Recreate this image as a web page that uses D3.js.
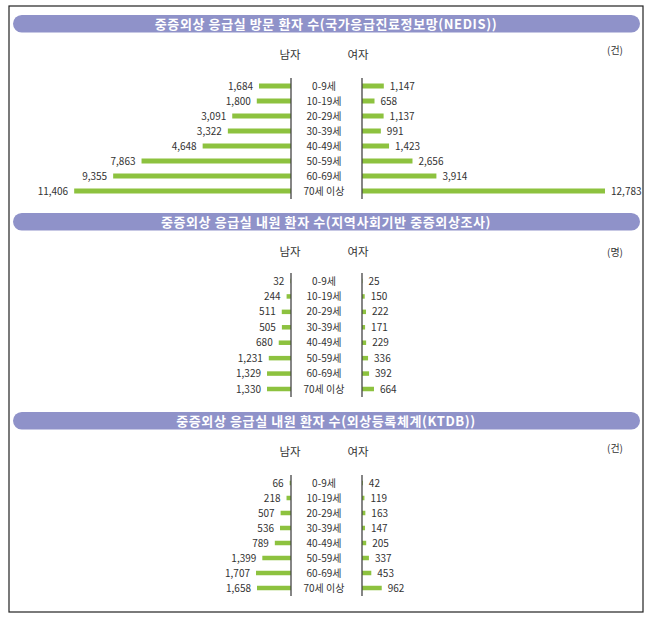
<!DOCTYPE html>
<html><head><meta charset="utf-8">
<script src="https://cdn.jsdelivr.net/npm/d3@7"></script>
<style>body{margin:0;background:#fff}svg{display:block}text{font-family:"Noto Sans CJK KR","Noto Sans",sans-serif}</style>
</head><body><svg id="c" width="650" height="619"></svg>
<script>
const ageGroups = ["0-9세","10-19세","20-29세","30-39세","40-49세","50-59세","60-69세","70세 이상"];
const nedisMale = [1684,1800,3091,3322,4648,7863,9355,11406];
const nedisFemale = [1147,658,1137,991,1423,2656,3914,12783];
const surveyMale = [32,244,511,505,680,1231,1329,1330];
const surveyFemale = [25,150,222,171,229,336,392,664];
const ktdbMale = [66,218,507,536,789,1399,1707,1658];
const ktdbFemale = [42,119,163,147,205,337,453,962];
const titles = ["중증외상 응급실 방문 환자 수(국가응급진료정보망(NEDIS))","중증외상 응급실 내원 환자 수(지역사회기반 중증외상조사)","중증외상 응급실 내원 환자 수(외상등록체계(KTDB))"];
const units = ["(건)","(명)","(건)"];
const sexLabels = ["남자","여자"];

const panels = [
  {male:nedisMale, female:nedisFemale, top:15, head:55, unitY:50, r0:86, r1:191, maxV:12783, maxPx:243, barH:5},
  {male:surveyMale, female:surveyFemale, top:213, head:252, unitY:252, r0:281, r1:389, maxV:1330, maxPx:24, barH:4.5},
  {male:ktdbMale, female:ktdbFemale, top:412, head:452, unitY:448, r0:483, r1:588, maxV:1707, maxPx:35, barH:4.5}
];
const fmt = d3.format(",");
const svg = d3.select("#c");
const leftAxisX = 291, rightAxisX = 362, labelX = 324;
const green = "#8dc23f", headFill = "#8f92c9", textCol = "#333";

svg.append("rect").attr("x",9).attr("y",6).attr("width",634).attr("height",606)
  .attr("fill","none").attr("stroke","#222").attr("stroke-width",1.2);

panels.forEach((p,i)=>{
  const g = svg.append("g");
  g.append("rect").attr("x",13).attr("y",p.top).attr("width",627).attr("height",17.5)
    .attr("rx",8.75).attr("fill",headFill);
  g.append("text").attr("x",326).attr("y",p.top+9).attr("dy","0.36em").attr("text-anchor","middle")
    .attr("fill","#fff").attr("font-size",13).attr("letter-spacing",0.6).attr("font-weight","bold").text(titles[i]);
  g.append("text").attr("x",290).attr("y",p.head).attr("dy","0.36em").attr("text-anchor","middle")
    .attr("fill",textCol).attr("font-size",11.5).text(sexLabels[0]);
  g.append("text").attr("x",358).attr("y",p.head).attr("dy","0.36em").attr("text-anchor","middle")
    .attr("fill",textCol).attr("font-size",11.5).text(sexLabels[1]);
  g.append("text").attr("x",615).attr("y",p.unitY).attr("dy","0.36em").attr("text-anchor","middle")
    .attr("fill",textCol).attr("font-size",10).text(units[i]);

  const y = d3.scalePoint().domain(ageGroups).range([p.r0,p.r1]);
  const x = d3.scaleLinear().domain([0,p.maxV]).range([0,p.maxPx]);

  g.selectAll(".bm").data(ageGroups).join("rect")
    .attr("x",(d,j)=>leftAxisX - x(p.male[j])).attr("y",d=>y(d)-p.barH/2)
    .attr("width",(d,j)=>x(p.male[j])).attr("height",p.barH).attr("fill",green);
  g.selectAll(".bf").data(ageGroups).join("rect")
    .attr("x",rightAxisX).attr("y",d=>y(d)-p.barH/2)
    .attr("width",(d,j)=>x(p.female[j])).attr("height",p.barH).attr("fill",green);

  g.append("line").attr("x1",leftAxisX).attr("x2",leftAxisX).attr("y1",p.r0-8).attr("y2",p.r1+8)
    .attr("stroke","#444").attr("stroke-width",1.3);
  g.append("line").attr("x1",rightAxisX).attr("x2",rightAxisX).attr("y1",p.r0-8).attr("y2",p.r1+8)
    .attr("stroke","#444").attr("stroke-width",1.3);

  g.selectAll(".ag").data(ageGroups).join("text")
    .attr("x",labelX).attr("y",d=>y(d)).attr("dy","0.36em").attr("text-anchor","middle")
    .attr("fill",textCol).attr("font-size",10).text(d=>d);
  g.selectAll(".lm").data(ageGroups).join("text")
    .attr("x",(d,j)=>leftAxisX - x(p.male[j]) - 6).attr("y",d=>y(d)).attr("dy","0.36em")
    .attr("text-anchor","end").attr("fill",textCol).attr("font-size",10).text((d,j)=>fmt(p.male[j]));
  g.selectAll(".lf").data(ageGroups).join("text")
    .attr("x",(d,j)=>rightAxisX + x(p.female[j]) + 6).attr("y",d=>y(d)).attr("dy","0.36em")
    .attr("text-anchor","start").attr("fill",textCol).attr("font-size",10).text((d,j)=>fmt(p.female[j]));
});
</script></body></html>
